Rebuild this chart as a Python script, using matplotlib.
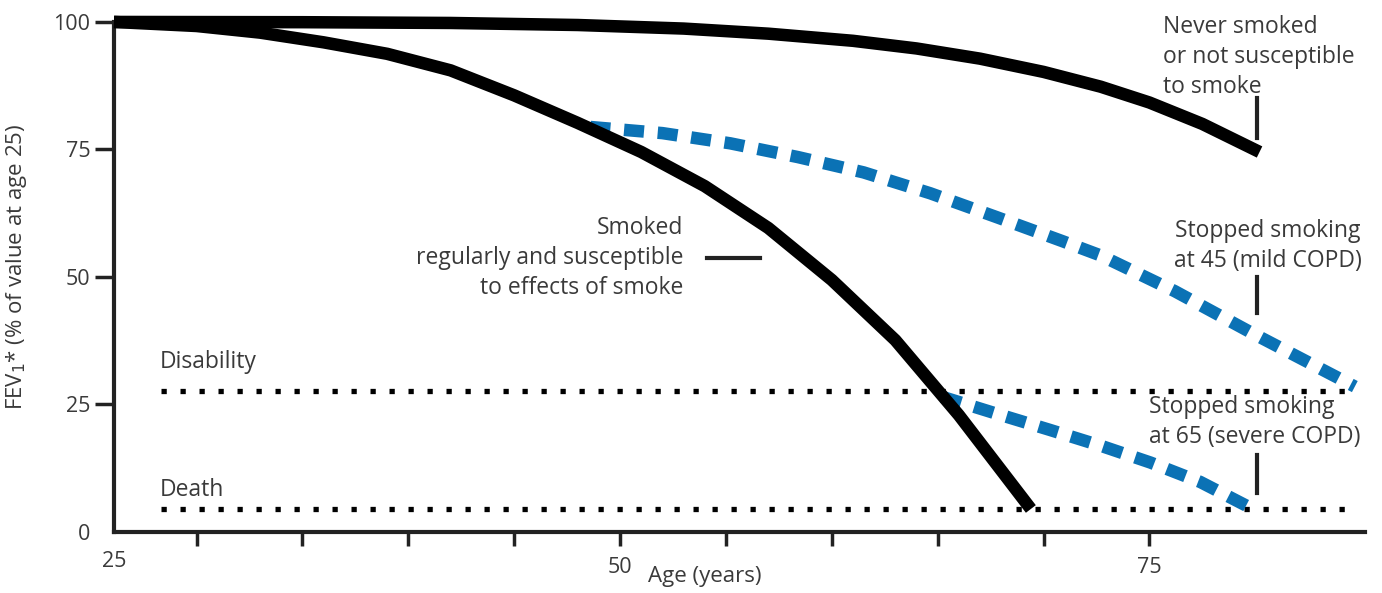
import numpy as np
import matplotlib
matplotlib.use("Agg")
import matplotlib.pyplot as plt

plt.rcParams['font.family'] = ['Open Sans', 'DejaVu Sans']

# ages (years) and FEV1 (% of value at age 25)
never_age = [26.1, 35, 42, 48, 53, 57, 61, 64, 67, 70, 72.7, 75, 77.5, 80.2]
never_fev = [100, 99.95, 99.8, 99.4, 98.7, 97.7, 96.3, 94.8, 92.8, 90.2, 87.3, 84.2, 80.0, 74.5]

smoker_age = [26.1, 30, 33, 36, 39, 42, 45, 48, 51, 54, 57, 60, 63, 66, 69.4]
smoker_fev = [100, 99.2, 97.9, 96.0, 93.75, 90.5, 85.6, 80.2, 74.5, 67.8, 59.6, 49.4, 37.6, 22.9, 4.5]

mild_age = [48.6, 52.0, 55.2, 58.4, 61.5, 64.65, 67.8, 70.9, 72.7, 76.2, 79.8, 84.7]
mild_fev = [79.4, 78.2, 76.2, 73.5, 70.5, 66.4, 61.7, 57.0, 54.2, 47.2, 39.1, 28.5]

severe_age = [65.2, 68.0, 70.3, 72.7, 75.05, 77.4, 79.6]
severe_fev = [26.5, 22.9, 20.0, 16.9, 13.6, 9.8, 5.1]

disability = 27.7
death = 4.5
ref_start, ref_end = 28.3, 84.7

x_ticks = [30, 35, 40, 45, 50, 55, 60, 65, 70, 75]
x_labels = ['', '', '', '', '50', '', '', '', '', '75']
y_ticks = [0, 25, 50, 75, 100]

blue = '#0b72b5'
txt = '#3a3a3a'

fig = plt.figure(figsize=(13.82, 5.93), dpi=100)
ax = fig.add_axes([0.0825, 0.103, 0.9055, 0.860])

# reference levels
for lvl in (disability, death):
    ax.plot([ref_start, ref_end], [lvl, lvl], color='black', lw=3.8,
            linestyle=(0, (1, 2.6)), dash_capstyle='butt', zorder=2)

ax.plot(never_age, never_fev, color='black', lw=9, solid_capstyle='butt',
        solid_joinstyle='round', clip_on=False, zorder=4)
ax.plot(smoker_age, smoker_fev, color='black', lw=9, solid_capstyle='butt',
        solid_joinstyle='round', clip_on=False, zorder=4)
ax.plot(mild_age, mild_fev, color=blue, lw=9, linestyle=(0, (1.6, 1.1)),
        dash_capstyle='butt', zorder=3)
ax.plot(severe_age, severe_fev, color=blue, lw=9, linestyle=(0, (1.6, 1.1)),
        dash_capstyle='butt', zorder=3)

# pointer marks
ax.plot([80.1, 80.1], [85.1, 77.3], color='#222222', lw=3)
ax.plot([80.1, 80.1], [50.0, 42.9], color='#222222', lw=3)
ax.plot([80.1, 80.1], [15.1, 7.6], color='#222222', lw=3)
ax.plot([54.1, 56.6], [53.7, 53.7], color='#222222', lw=3)

fs = 16.5
ls = 1.32
ax.text(75.66, 93.1, 'Never smoked\nor not susceptible\nto smoke', ha='left', va='center',
        fontsize=fs, color=txt, linespacing=ls)
ax.text(80.6, 56.1, 'Stopped smoking\nat 45 (mild COPD)', ha='center', va='center',
        fontsize=fs, color=txt, linespacing=ls, multialignment='center')
ax.text(75.0, 21.5, 'Stopped smoking\nat 65 (severe COPD)', ha='left', va='center',
        fontsize=fs, color=txt, linespacing=ls)
ax.text(52.98, 53.7, 'Smoked\nregularly and susceptible\nto effects of smoke', ha='right',
        va='center', fontsize=fs, color=txt, linespacing=ls, multialignment='right')
ax.text(28.26, 33.3, 'Disability', ha='left', va='center', fontsize=fs, color=txt)
ax.text(28.26, 8.2, 'Death', ha='left', va='center', fontsize=fs, color=txt)

ax.set_xlim(26.1, 85.2)
ax.set_ylim(0, 100)

for side in ('top', 'right'):
    ax.spines[side].set_visible(False)
for side in ('left', 'bottom'):
    ax.spines[side].set_linewidth(3)
    ax.spines[side].set_color('#222222')

ax.set_xticks(x_ticks)
ax.set_xticklabels(x_labels)
ax.set_yticks(y_ticks)
ax.tick_params(axis='y', length=14, width=2.5, color='#222222', labelsize=15.5,
               labelcolor=txt, pad=3)
ax.tick_params(axis='x', length=10, width=2.5, color='#222222', labelsize=15.5,
               labelcolor=txt, pad=8)
ax.yaxis.get_major_ticks()[0].tick1line.set_visible(False)
ax.text(0.0, -0.058, '25', transform=ax.transAxes, ha='center', va='center',
        fontsize=15.5, color=txt)

ax.set_xlabel('Age (years)', fontsize=16, color=txt)
ax.xaxis.set_label_coords(0.472, -0.066)
ax.set_ylabel('FEV$_1$* (% of value at age 25)', fontsize=16, color=txt)
ax.yaxis.set_label_coords(-0.068, 0.52)

fig.savefig('out.png', dpi=100)
